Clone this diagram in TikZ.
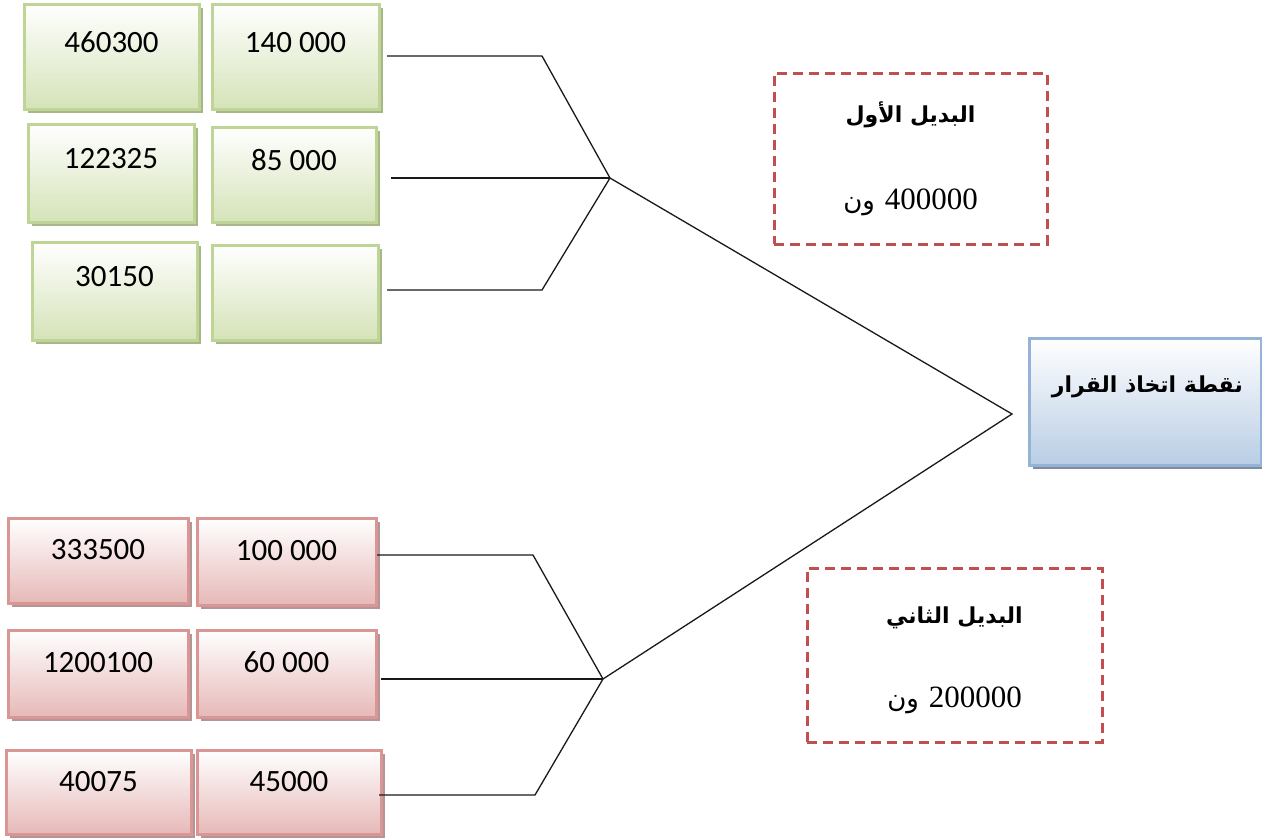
\documentclass[tikz,border=0pt]{standalone}
\usepackage{fontspec}
\setmainfont{Carlito}
\newfontfamily\arabicfont[Script=Arabic]{DejaVu Sans}
\newfontfamily\serifnum{Liberation Serif}
\TeXXeTstate=1
\usetikzlibrary{shadows}
\definecolor{gfill}{HTML}{D5E3B8}
\definecolor{gborder}{HTML}{BFD595}
\definecolor{gshadow}{HTML}{A8B78A}
\definecolor{rfill}{HTML}{E6B9B8}
\definecolor{rborder}{HTML}{D99694}
\definecolor{rshadow}{HTML}{B49494}
\definecolor{bfill}{HTML}{B9CDE5}
\definecolor{bborder}{HTML}{95B3D7}
\definecolor{bshadow}{HTML}{7F8C9E}
\definecolor{dashred}{HTML}{C0504D}
\begin{document}
\begin{tikzpicture}[x=1pt,y=-1pt,
  box/.style={rectangle, inner sep=0pt, line width=3pt,
    font=\fontsize{31}{36}\selectfont, text height=20pt},
  gbox/.style={box, draw=gborder, top color=white, bottom color=gfill, text depth=29pt,
    drop shadow={shadow xshift=4pt, shadow yshift=-4pt, fill=gshadow, opacity=1}},
  rbox/.style={box, draw=rborder, top color=white, bottom color=rfill, text depth=22pt,
    drop shadow={shadow xshift=4pt, shadow yshift=-4pt, fill=rshadow, opacity=1}},
  decbox/.style={rectangle, inner sep=0pt, line width=3pt, draw=bborder,
    top color=white, bottom color=bfill,
    drop shadow={shadow xshift=4pt, shadow yshift=-4pt, fill=bshadow, opacity=1}},
  altbox/.style={rectangle, inner sep=0pt, draw=dashred, line width=3pt,
    dash pattern=on 10pt off 6pt},
  titletxt/.style={inner sep=0pt, anchor=base, font=\arabicfont\bfseries\fontsize{22}{26}\selectfont},
  valtxt/.style={inner sep=0pt, anchor=base, font=\fontsize{31}{36}\selectfont},
  conn/.style={line width=1.3pt, draw=black!90}
]
\useasboundingbox (0,0) rectangle (1262,838);

% green boxes (first alternative)
\node[gbox, minimum width=175pt, minimum height=105pt] (g11) at (111.5,56.5) {460300};
\node[gbox, minimum width=167pt, minimum height=105pt] (g12) at (295.5,56.5) {140 000};
\node[gbox, minimum width=166pt, minimum height=98pt] (g21) at (111,173) {122325};
\node[gbox, minimum width=164pt, minimum height=95pt] (g22) at (294,174.5) {85 000};
\node[gbox, minimum width=165pt, minimum height=98pt] (g31) at (114.5,291) {30150};
\node[gbox, minimum width=166pt, minimum height=95pt] (g32) at (295,292.5) {};

% red boxes (second alternative)
\node[rbox, minimum width=180pt, minimum height=85pt] (r11) at (98,560.5) {333500};
\node[rbox, minimum width=179pt, minimum height=87pt] (r12) at (286.5,561.5) {100 000};
\node[rbox, minimum width=180pt, minimum height=87pt] (r21) at (98,673.5) {1200100};
\node[rbox, minimum width=179pt, minimum height=87pt] (r22) at (286.5,673.5) {60 000};
\node[rbox, minimum width=185pt, minimum height=84pt] (r31) at (98.5,792) {40075};
\node[rbox, minimum width=184pt, minimum height=84pt] (r32) at (289,792) {45000};

% decision box
\node[decbox, minimum width=232pt, minimum height=127pt] (dec) at (1145,401.5) {};
\node[titletxt, anchor=base east] (dect) at (1243,392)
  {\beginR نقطة اتخاذ القرار\endR};

% dashed alternative boxes
\node[altbox, minimum width=273pt, minimum height=171pt] (d1) at (910.5,158.5) {};
\node[titletxt] (d1t) at (910.5,122) {\beginR البديل الأول\endR};
\node[valtxt] (d1v) at (910.5,209)
  {\arabicfont\beginR\beginL{\serifnum 400000}\endL{} {\fontsize{26}{30}\selectfont ون}\endR};

\node[altbox, minimum width=295pt, minimum height=174pt] (d2) at (954.5,655) {};
\node[titletxt] (d2t) at (954.5,623) {\beginR البديل الثاني\endR};
\node[valtxt] (d2v) at (954.5,707)
  {\arabicfont\beginR\beginL{\serifnum 200000}\endL{} {\fontsize{26}{30}\selectfont ون}\endR};

% connector points
\coordinate (s11) at (387,56);  \coordinate (b11) at (542,56);
\coordinate (s12) at (391,178);
\coordinate (s13) at (387,290); \coordinate (b13) at (542,290);
\coordinate (J1) at (610,178);
\coordinate (s21) at (377,555); \coordinate (b21) at (533,555);
\coordinate (s22) at (381,679);
\coordinate (s23) at (379,795); \coordinate (b23) at (535,795);
\coordinate (J2) at (603,679);
\coordinate (D) at (1012,414);

\draw[conn] (s11) -- (b11) -- (J1);
\draw[conn] (s12) -- (J1);
\draw[conn] (s13) -- (b13) -- (J1);
\draw[conn] (s21) -- (b21) -- (J2);
\draw[conn] (s22) -- (J2);
\draw[conn] (s23) -- (b23) -- (J2);
\draw[conn] (J1) -- (D) -- (J2);
\end{tikzpicture}
\end{document}
